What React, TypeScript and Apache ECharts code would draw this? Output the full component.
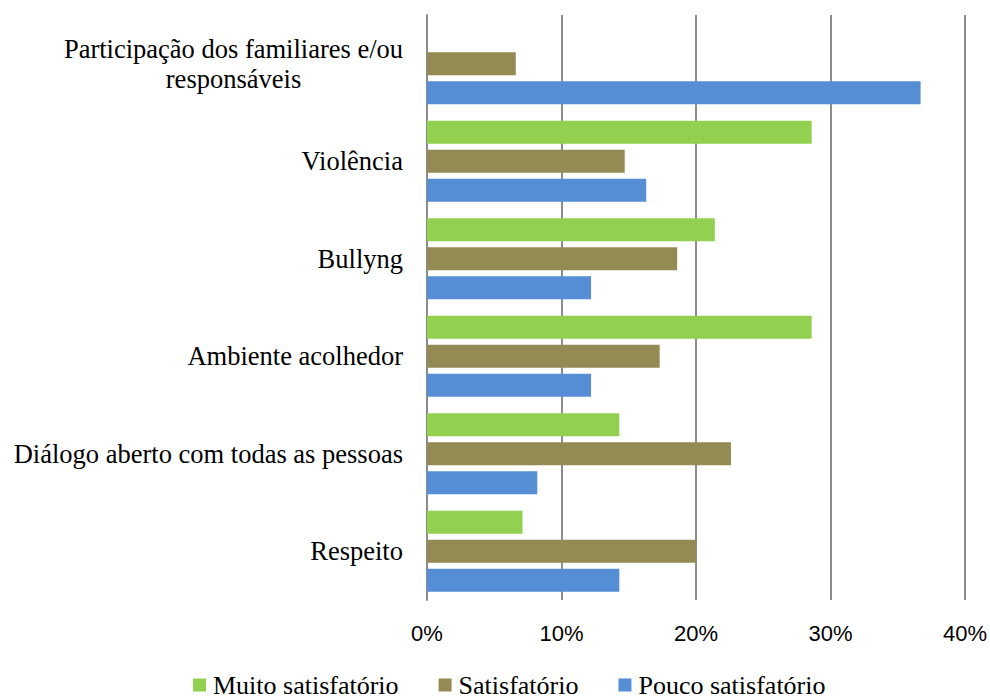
import React, { useEffect, useRef } from "react";
import * as echarts from "echarts";

const categories = [
  "Participação dos familiares e/ou responsáveis",
  "Violência",
  "Bullyng",
  "Ambiente acolhedor",
  "Diálogo aberto com todas as pessoas",
  "Respeito",
];
const seriesNames = ["Muito satisfatório", "Satisfatório", "Pouco satisfatório"];
const muitoSatisfatorio = [0, 28.6, 21.4, 28.6, 14.3, 7.1];
const satisfatorio = [6.6, 14.7, 18.6, 17.3, 22.6, 20.0];
const poucoSatisfatorio = [36.7, 16.3, 12.2, 12.2, 8.2, 14.3];
const colors = ["#92D050", "#948A54", "#558ED5"];
const xTicks = [0, 10, 20, 30, 40];

const SERIF = "Liberation Serif";
const SANS = "Liberation Sans";

export default function App() {
  const ref = useRef<HTMLDivElement>(null);
  useEffect(() => {
    if (!ref.current) return;
    const chart = echarts.init(ref.current, null, { renderer: "svg" });
    const values = [muitoSatisfatorio, satisfatorio, poucoSatisfatorio];
    chart.setOption({
      animation: false,
      grid: { left: 427, right: 24, top: 15, bottom: 100, containLabel: false },
      legend: {
        data: seriesNames,
        top: 672,
        left: 193,
        padding: 0,
        itemWidth: 13,
        itemHeight: 13,
        itemGap: 40,
        icon: "rect",
        textStyle: { fontFamily: SERIF, fontSize: 26, color: "#000", padding: [0, 0, 0, 2] },
      },
      xAxis: {
        type: "value",
        min: xTicks[0],
        max: xTicks[xTicks.length - 1],
        interval: 10,
        axisLine: { show: false },
        axisTick: { show: false },
        axisLabel: {
          formatter: "{value}%",
          fontFamily: SANS,
          fontSize: 22,
          color: "#000",
          margin: 22,
        },
        splitLine: { show: true, lineStyle: { color: "#8c8c8c", width: 2 } },
      },
      yAxis: {
        type: "category",
        inverse: true,
        data: categories,
        axisLine: { show: true, lineStyle: { color: "#8c8c8c", width: 2 } },
        axisTick: { show: false },
        axisLabel: {
          margin: 24,
          fontFamily: SERIF,
          fontSize: 26.5,
          color: "#000",
          lineHeight: 30,
          formatter: (v: string) =>
            v === categories[0]
              ? "{c|Participação dos familiares e/ou}\n{c|responsáveis}"
              : v,
          rich: {
            c: {
              fontFamily: SERIF,
              fontSize: 26.5,
              color: "#000",
              width: 339,
              align: "center",
              lineHeight: 30,
            },
          },
        },
      },
      series: seriesNames.map((name, i) => ({
        name,
        type: "bar",
        data: values[i],
        barWidth: 23,
        barGap: "26%",
        itemStyle: { color: colors[i] },
      })),
    });
    return () => chart.dispose();
  }, []);
  return (
    <div
      ref={ref}
      style={{ position: "fixed", left: 0, top: 0, width: 990, height: 700, background: "#fff" }}
    />
  );
}
